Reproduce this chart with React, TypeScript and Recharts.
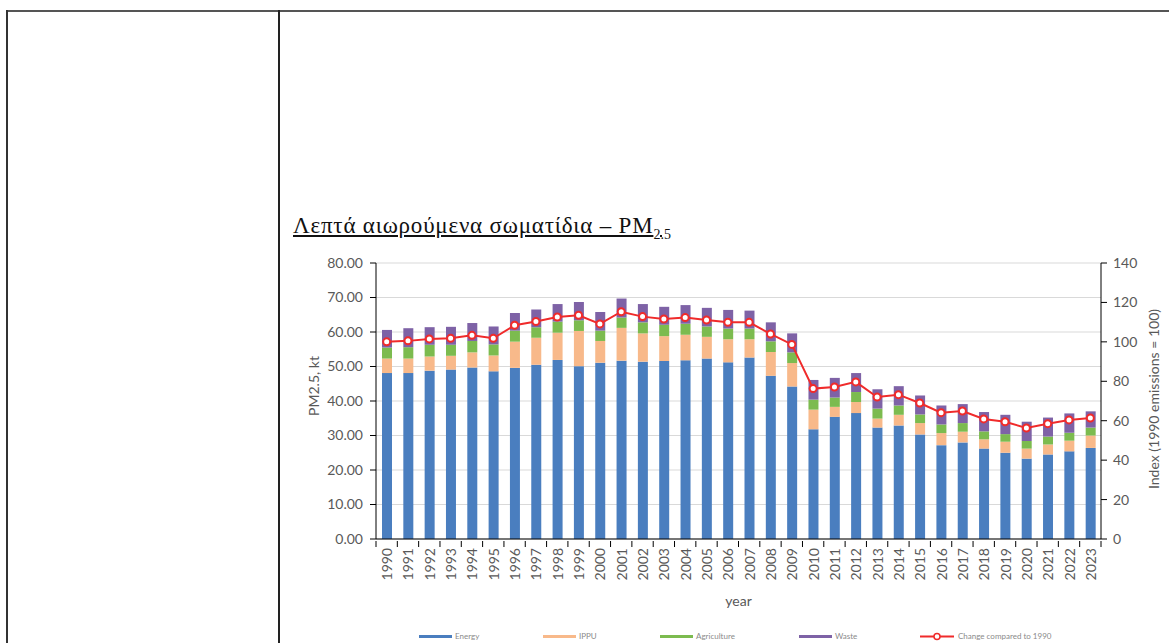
import React from "react";
import {
  ComposedChart,
  Bar,
  Line,
  XAxis,
  YAxis,
  CartesianGrid,
  Legend,
} from "recharts";

const years = [
  "1990", "1991", "1992", "1993", "1994", "1995", "1996", "1997", "1998", "1999",
  "2000", "2001", "2002", "2003", "2004", "2005", "2006", "2007", "2008", "2009",
  "2010", "2011", "2012", "2013", "2014", "2015", "2016", "2017", "2018", "2019",
  "2020", "2021", "2022", "2023",
];

// kt per sector
const energy = [
  48.1, 48.1, 48.8, 49.1, 49.7, 48.6, 49.6, 50.5, 51.9, 50.1,
  51.1, 51.7, 51.4, 51.6, 51.8, 52.3, 51.2, 52.6, 47.3, 44.2,
  31.8, 35.4, 36.5, 32.3, 32.9, 30.3, 27.2, 28.0, 26.2, 25.0,
  23.3, 24.5, 25.4, 26.4,
];
const ippu = [
  4.2, 4.2, 4.1, 4.0, 4.4, 4.6, 7.6, 7.8, 7.9, 10.2,
  6.3, 9.5, 8.2, 7.2, 7.4, 6.3, 6.7, 5.3, 6.9, 6.8,
  5.7, 2.9, 3.2, 2.6, 3.1, 3.3, 3.5, 3.1, 2.7, 3.2,
  2.9, 2.9, 3.1, 3.6,
];
const agriculture = [
  3.2, 3.3, 3.4, 3.2, 3.3, 3.2, 3.2, 3.1, 3.2, 3.1,
  3.0, 3.0, 3.2, 3.3, 3.2, 3.0, 3.1, 3.1, 3.1, 3.1,
  2.9, 2.7, 2.9, 2.9, 2.7, 2.5, 2.5, 2.5, 2.3, 2.2,
  2.2, 2.3, 2.3, 2.3,
];
const waste = [
  5.1, 5.5, 5.1, 5.2, 5.2, 5.2, 5.1, 5.1, 5.1, 5.3,
  5.4, 5.5, 5.3, 5.2, 5.4, 5.4, 5.4, 5.2, 5.5, 5.5,
  5.7, 5.7, 5.5, 5.6, 5.6, 5.5, 5.5, 5.5, 5.6, 5.6,
  5.6, 5.5, 5.6, 4.7,
];
// index, 1990 = 100
const change = [
  100, 100.5, 101.5, 101.8, 103.3, 101.8, 108.4, 110.3, 112.6, 113.5,
  109.1, 115.3, 112.8, 111.6, 112.3, 111.1, 109.9, 109.9, 104.0, 98.7,
  76.3, 77.1, 79.7, 72.0, 73.2, 69.0, 64.1, 64.9, 60.9, 59.5,
  56.3, 58.5, 60.4, 61.4,
];

const leftTicks = [0, 10, 20, 30, 40, 50, 60, 70, 80];
const rightTicks = [0, 20, 40, 60, 80, 100, 120, 140];

const data = years.map((year, i) => ({
  year,
  energy: energy[i],
  ippu: ippu[i],
  agriculture: agriculture[i],
  waste: waste[i],
  change: change[i],
}));

const FONT = "Lato, 'Open Sans', sans-serif";
const GREY = "#595959";
const COLORS = {
  energy: "#4a7ebf",
  ippu: "#f8b98a",
  agriculture: "#7cbb4f",
  waste: "#7e62a6",
  change: "#f02b2b",
};

const legendItems = [
  { key: "energy", name: "Energy", left: 139 },
  { key: "ippu", name: "IPPU", left: 263 },
  { key: "agriculture", name: "Agriculture", left: 380 },
  { key: "waste", name: "Waste", left: 519 },
  { key: "change", name: "Change compared to 1990", left: 640 },
];

const YearTick = (props: any) => {
  const { x, y, payload, index, width, visibleTicksCount } = props;
  const band = (width || 725) / (visibleTicksCount || years.length);
  return (
    <g>
      {index === 0 && (
        <line x1={x - band / 2} x2={x - band / 2} y1={y - 6} y2={y} stroke="#000" />
      )}
      <line x1={x + band / 2} x2={x + band / 2} y1={y - 6} y2={y} stroke="#000" />
      <text
        x={x}
        y={y + 1}
        transform={`rotate(-90 ${x} ${y + 1})`}
        textAnchor="end"
        dominantBaseline="central"
        fontSize={14}
        fontFamily={FONT}
        fill={GREY}
      >
        {payload.value}
      </text>
    </g>
  );
};

const CustomLegend = () => (
  <div style={{ position: "relative", width: 889, height: 20, fontFamily: FONT }}>
    {legendItems.map((item) => (
      <div
        key={item.key}
        style={{
          position: "absolute",
          left: item.left,
          top: 8,
          display: "flex",
          alignItems: "center",
          fontSize: 8,
          color: "#8a8a8a",
          whiteSpace: "nowrap",
        }}
      >
        {item.key === "change" ? (
          <svg width={34} height={9} style={{ marginRight: 4 }}>
            <line x1={0} x2={34} y1={4.5} y2={4.5} stroke={COLORS.change} strokeWidth={2} />
            <circle cx={17} cy={4.5} r={3} fill="#fff" stroke={COLORS.change} strokeWidth={1.5} />
          </svg>
        ) : (
          <span
            style={{
              display: "inline-block",
              width: 33,
              height: 3,
              background: (COLORS as any)[item.key],
              marginRight: 3,
            }}
          />
        )}
        {item.name}
      </div>
    ))}
  </div>
);

export default function App() {
  return (
    <div
      style={{
        position: "absolute",
        left: 0,
        top: 0,
        width: 1169,
        height: 643,
        background: "#fff",
        overflow: "hidden",
      }}
    >
      {/* table frame */}
      <div style={{ position: "absolute", left: 6, top: 10, width: 1163, height: 2, background: "#555" }} />
      <div style={{ position: "absolute", left: 6, top: 10, width: 2, height: 633, background: "#333" }} />
      <div style={{ position: "absolute", left: 278, top: 10, width: 2, height: 633, background: "#222" }} />

      <div
        style={{
          position: "absolute",
          left: 293,
          top: 213,
          fontFamily: "'Liberation Serif', 'Times New Roman', serif",
          fontSize: 23,
          letterSpacing: 0.8,
          color: "#111",
          textDecoration: "underline",
          whiteSpace: "nowrap",
        }}
      >
        Λεπτά αιωρούμενα σωματίδια – PM<sub style={{ fontSize: 14, letterSpacing: 0 }}>2.5</sub>
      </div>

      <div style={{ position: "absolute", left: 280, top: 240 }}>
        <ComposedChart
          width={889}
          height={403}
          data={data}
          margin={{ top: 23, right: 0, left: 0, bottom: 0 }}
          barSize={10}
        >
          <CartesianGrid vertical={false} stroke="#d9d9d9" yAxisId="left" />
          <XAxis
            dataKey="year"
            height={84}
            axisLine={{ stroke: "#000" }}
            tickLine={false}
            interval={0}
            tick={<YearTick />}
            label={(p: any) => {
              const vb = p.viewBox || { x: 96, y: 299, width: 725 };
              return (
                <text
                  x={vb.x + vb.width / 2}
                  y={vb.y + 61}
                  textAnchor="middle"
                  dominantBaseline="central"
                  fontSize={14}
                  fontFamily={FONT}
                  fill={GREY}
                >
                  year
                </text>
              );
            }}
          />
          <YAxis
            yAxisId="left"
            width={96}
            domain={[0, 80]}
            ticks={leftTicks}
            tickFormatter={(v: number) => v.toFixed(2)}
            axisLine={{ stroke: "#000" }}
            tickLine={{ stroke: "#000" }}
            tickSize={6}
            tickMargin={7}
            tick={{ fontSize: 14, fontFamily: FONT, fill: GREY }}
            label={(p: any) => {
              const vb = p.viewBox || { x: 0, y: 23, height: 276 };
              const cx = vb.x + 33;
              const cy = vb.y + vb.height / 2 - 15;
              return (
                <text
                  x={cx}
                  y={cy}
                  transform={`rotate(-90 ${cx} ${cy})`}
                  textAnchor="middle"
                  dominantBaseline="central"
                  fontSize={14}
                  fontFamily={FONT}
                  fill={GREY}
                >
                  PM2.5, kt
                </text>
              );
            }}
          />
          <YAxis
            yAxisId="right"
            orientation="right"
            width={68}
            domain={[0, 140]}
            ticks={rightTicks}
            axisLine={{ stroke: "#000" }}
            tickLine={{ stroke: "#000" }}
            tickSize={6}
            tickMargin={6}
            tick={{ fontSize: 14, fontFamily: FONT, fill: GREY }}
            label={(p: any) => {
              const vb = p.viewBox || { x: 821, y: 23, height: 276 };
              const cx = vb.x + 52;
              const cy = vb.y + vb.height / 2 - 2;
              return (
                <text
                  x={cx}
                  y={cy}
                  transform={`rotate(-90 ${cx} ${cy})`}
                  textAnchor="middle"
                  dominantBaseline="central"
                  fontSize={14}
                  fontFamily={FONT}
                  fill={GREY}
                >
                  Index (1990 emissions = 100)
                </text>
              );
            }}
          />
          <Bar yAxisId="left" dataKey="energy" name="Energy" stackId="s" fill={COLORS.energy} isAnimationActive={false} />
          <Bar yAxisId="left" dataKey="ippu" name="IPPU" stackId="s" fill={COLORS.ippu} isAnimationActive={false} />
          <Bar yAxisId="left" dataKey="agriculture" name="Agriculture" stackId="s" fill={COLORS.agriculture} isAnimationActive={false} />
          <Bar yAxisId="left" dataKey="waste" name="Waste" stackId="s" fill={COLORS.waste} isAnimationActive={false} />
          <Line
            yAxisId="right"
            dataKey="change"
            name="Change compared to 1990"
            stroke={COLORS.change}
            strokeWidth={2}
            dot={{ r: 3.5, fill: "#fff", stroke: COLORS.change, strokeWidth: 2 }}
            isAnimationActive={false}
          />
          <Legend
            verticalAlign="bottom"
            height={20}
            wrapperStyle={{ left: 0, width: 889, height: 20 }}
            content={<CustomLegend />}
          />
        </ComposedChart>
      </div>
    </div>
  );
}
